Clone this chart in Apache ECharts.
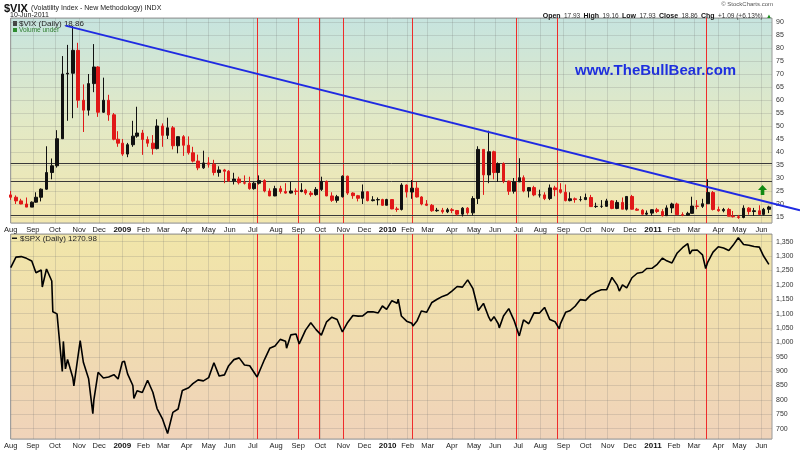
<!DOCTYPE html>
<html><head><meta charset="utf-8">
<script src="https://cdn.jsdelivr.net/npm/echarts@6/dist/echarts.min.js"></script>
<style>html,body{margin:0;padding:0;background:#fff}#c{width:800px;height:450px}</style>
</head><body><div id="c"></div><script>
// ---------- categories (trading days) ----------
const holidays = ['2008-09-01','2008-11-27','2008-12-25','2009-01-01','2009-01-19','2009-02-16','2009-04-10','2009-05-25','2009-07-03','2009-09-07','2009-11-26','2009-12-25','2010-01-01','2010-01-18','2010-02-15','2010-04-02','2010-05-31','2010-07-05','2010-09-06','2010-11-25','2010-12-24','2011-01-17','2011-02-21','2011-04-22','2011-05-30'];
const monthNames = ['Jan','Feb','Mar','Apr','May','Jun','Jul','Aug','Sep','Oct','Nov','Dec'];

// ---------- VIX weekly bars: [date, open, high, low, close] ----------
const vixWeekly = [
['2008-08-01',23.5,25.0,21.6,22.6],['2008-08-08',22.6,23.3,20.0,21.2],['2008-08-15',21.2,22.0,19.9,20.0],
['2008-08-22',20.0,22.5,18.8,18.8],['2008-08-29',18.8,21.0,18.8,20.7],['2008-09-05',20.7,24.5,20.5,22.6],
['2008-09-12',22.6,26.0,21.0,25.7],['2008-09-19',25.7,42.2,25.5,32.1],['2008-09-26',32.1,37.5,29.5,34.7],
['2008-10-03',34.7,48.4,34.0,45.1],['2008-10-10',45.1,76.9,45.0,70.0],['2008-10-17',70.0,81.2,52.0,70.3],
['2008-10-24',70.3,88.5,53.0,79.1],['2008-10-31',79.1,82.0,57.0,59.9],['2008-11-07',59.9,66.0,47.7,56.1],
['2008-11-14',56.1,70.0,54.0,66.3],['2008-11-21',66.3,81.5,63.0,72.7],['2008-11-28',72.7,73.0,53.5,55.3],
['2008-12-05',55.3,68.6,55.0,59.9],['2008-12-12',59.9,62.0,52.0,54.3],['2008-12-19',54.3,55.0,44.5,44.9],
['2008-12-26',44.9,48.0,42.0,43.4],['2009-01-02',43.4,45.0,38.5,39.2],['2009-01-09',39.2,43.5,38.0,42.8],
['2009-01-16',42.8,52.0,42.0,46.1],['2009-01-23',46.1,57.4,45.5,47.3],['2009-01-30',47.3,48.5,38.9,44.8],
['2009-02-06',44.8,46.0,42.0,43.4],['2009-02-13',43.4,46.5,39.0,41.3],['2009-02-20',41.3,52.6,41.0,50.0],
['2009-02-27',50.0,51.0,42.0,46.4],['2009-03-06',46.4,53.2,45.0,49.3],['2009-03-13',49.3,50.0,41.0,42.4],
['2009-03-20',42.4,46.0,39.5,45.9],['2009-03-27',45.9,46.5,38.5,42.6],['2009-04-03',42.6,46.0,39.0,39.7],
['2009-04-09',39.7,42.0,36.0,36.5],['2009-04-17',36.5,39.0,33.0,33.9],['2009-04-24',33.9,40.5,33.5,35.8],
['2009-05-01',35.8,38.0,34.0,35.3],['2009-05-08',35.3,37.0,31.0,32.1],['2009-05-15',32.1,34.5,30.5,33.1],
['2009-05-22',33.1,33.5,28.0,32.6],['2009-05-29',32.6,33.0,28.5,28.9],['2009-06-05',28.9,32.0,27.5,29.6],
['2009-06-12',29.6,30.5,27.5,28.2],['2009-06-19',28.2,31.0,27.5,28.0],['2009-06-26',28.0,30.5,25.5,25.9],
['2009-07-02',25.9,28.5,25.5,28.0],['2009-07-10',28.0,31.0,27.5,29.0],['2009-07-17',29.0,29.5,24.5,25.0],
['2009-07-24',25.0,26.0,23.0,23.1],['2009-07-31',23.1,27.0,23.0,25.9],['2009-08-07',25.9,27.0,24.0,24.8],
['2009-08-14',24.8,28.0,24.0,24.2],['2009-08-21',24.2,28.5,24.0,25.0],['2009-08-28',25.0,26.0,23.5,24.8],
['2009-09-04',24.8,28.0,24.5,25.3],['2009-09-11',25.3,25.8,23.5,24.2],['2009-09-18',24.2,25.0,22.8,23.6],
['2009-09-25',23.6,26.5,23.2,25.6],['2009-10-02',25.6,30.5,25.0,28.7],['2009-10-09',28.7,29.0,23.0,23.1],
['2009-10-16',23.1,24.5,20.8,21.4],['2009-10-23',21.4,23.5,20.5,22.8],['2009-10-30',22.8,31.0,22.5,30.7],
['2009-11-06',30.7,30.9,23.5,24.2],['2009-11-13',24.2,24.5,22.0,23.2],['2009-11-20',23.2,23.5,21.0,22.2],
['2009-11-27',22.2,27.5,20.0,24.7],['2009-12-04',24.7,25.0,21.0,21.3],['2009-12-11',21.3,23.0,21.0,21.6],
['2009-12-18',21.6,22.5,19.5,21.7],['2009-12-24',21.7,22.0,19.3,19.5],['2009-12-31',19.5,22.0,19.5,21.7],
['2010-01-08',21.7,21.8,18.0,18.1],['2010-01-15',18.1,18.9,17.0,17.9],['2010-01-22',17.9,28.0,17.5,27.3],
['2010-01-29',27.3,27.5,22.5,24.6],['2010-02-05',24.6,29.2,22.0,26.1],['2010-02-12',26.1,28.5,22.5,22.7],
['2010-02-19',22.7,23.0,19.5,20.0],['2010-02-26',20.0,21.5,19.2,19.5],['2010-03-05',19.5,20.0,17.0,17.4],
['2010-03-12',17.4,18.5,17.0,17.6],['2010-03-19',17.6,18.5,16.3,17.0],['2010-03-26',17.0,18.5,16.5,17.8],
['2010-04-01',17.8,18.4,16.5,17.5],['2010-04-09',17.5,17.7,15.6,16.1],['2010-04-16',16.1,18.8,15.2,18.4],
['2010-04-23',18.4,18.8,15.9,16.6],['2010-04-30',16.6,23.0,15.6,22.1],['2010-05-07',22.1,42.2,20.0,41.0],
['2010-05-14',41.0,41.0,23.5,31.2],['2010-05-21',31.2,48.2,28.0,40.1],['2010-05-28',40.1,40.5,29.5,32.1],
['2010-06-04',32.1,36.0,28.5,35.5],['2010-06-11',35.5,36.0,28.0,28.8],['2010-06-18',28.8,29.0,23.5,24.9],
['2010-06-25',24.9,30.0,24.0,28.5],['2010-07-02',28.5,37.6,28.5,30.1],['2010-07-09',30.1,31.0,24.5,25.0],
['2010-07-16',25.0,26.5,22.5,26.3],['2010-07-23',26.3,27.0,23.0,23.5],['2010-07-30',23.5,25.5,22.5,23.5],
['2010-08-06',23.5,24.5,21.5,22.1],['2010-08-13',22.1,27.5,21.5,26.2],['2010-08-20',26.2,27.0,23.0,25.5],
['2010-08-27',25.5,28.0,24.0,24.5],['2010-09-03',24.5,27.5,21.0,21.3],['2010-09-10',21.3,24.5,21.0,22.0],
['2010-09-17',22.0,22.5,20.5,21.7],['2010-09-24',21.7,23.0,21.0,21.7],['2010-10-01',21.7,24.0,21.5,22.5],
['2010-10-08',22.5,23.5,18.9,19.0],['2010-10-15',19.0,20.5,18.5,19.1],['2010-10-22',19.1,21.5,18.5,19.1],
['2010-10-29',19.1,22.0,19.0,21.2],['2010-11-05',21.2,21.5,18.0,18.3],['2010-11-12',18.3,21.5,18.0,20.6],
['2010-11-19',20.6,22.5,18.0,18.0],['2010-11-26',18.0,23.0,17.5,22.9],['2010-12-03',22.9,23.5,17.9,18.0],
['2010-12-10',18.0,18.5,17.4,17.6],['2010-12-17',17.6,18.0,15.9,16.1],['2010-12-23',16.1,17.5,15.7,16.5],
['2010-12-31',16.5,18.0,15.5,17.8],['2011-01-07',17.8,18.5,16.5,17.1],['2011-01-14',17.1,18.0,15.2,15.5],
['2011-01-21',15.5,19.5,15.4,18.5],['2011-01-28',18.5,20.5,16.5,20.0],['2011-02-04',20.0,20.5,15.9,15.9],
['2011-02-11',15.9,16.8,15.3,15.7],['2011-02-18',15.7,17.0,15.5,16.4],['2011-02-25',16.4,22.8,16.3,19.2],
['2011-03-04',19.2,21.5,18.0,19.1],['2011-03-11',19.1,22.0,18.5,20.1],['2011-03-18',20.1,29.5,20.0,24.4],
['2011-03-25',24.4,25.0,17.5,17.9],['2011-04-01',17.9,19.0,17.0,17.4],['2011-04-08',17.4,18.5,16.8,17.9],
['2011-04-15',17.9,18.5,15.3,15.3],['2011-04-21',15.3,17.3,14.8,15.1],['2011-04-29',15.1,15.8,14.3,14.8],
['2011-05-06',14.8,19.5,14.5,18.4],['2011-05-13',18.4,18.8,15.9,17.1],['2011-05-20',17.1,18.5,15.5,17.4],
['2011-05-27',17.4,19.5,15.9,16.0],['2011-06-03',16.0,18.5,15.6,17.95],['2011-06-10',17.95,19.3,16.5,18.86]
];

// ---------- S&P 500 closes: [date, close] ----------
const spxClose = [
['2008-08-01',1260.3],['2008-08-08',1296.3],['2008-08-15',1298.2],['2008-08-22',1292.2],['2008-08-29',1282.8],
['2008-09-05',1242.3],['2008-09-12',1251.7],['2008-09-15',1192.7],['2008-09-19',1255.1],['2008-09-26',1213.3],
['2008-09-29',1106.4],['2008-10-03',1099.2],['2008-10-10',899.2],['2008-10-13',1003.4],['2008-10-15',907.8],
['2008-10-17',940.6],['2008-10-24',876.8],['2008-10-27',848.9],['2008-11-04',1005.8],['2008-11-07',931.0],
['2008-11-14',873.3],['2008-11-20',752.4],['2008-11-21',800.0],['2008-11-28',896.2],['2008-12-05',876.1],
['2008-12-12',879.7],['2008-12-19',887.9],['2008-12-26',872.8],['2009-01-02',931.8],['2009-01-06',934.7],
['2009-01-09',890.4],['2009-01-16',850.1],['2009-01-20',805.2],['2009-01-23',832.0],['2009-01-30',825.9],
['2009-02-06',868.6],['2009-02-09',869.9],['2009-02-13',826.8],['2009-02-20',770.1],['2009-02-27',735.1],
['2009-03-06',683.4],['2009-03-09',676.5],['2009-03-13',756.6],['2009-03-20',768.5],['2009-03-26',832.9],
['2009-04-03',842.5],['2009-04-09',856.6],['2009-04-17',869.6],['2009-04-24',866.2],['2009-05-01',877.5],
['2009-05-08',929.2],['2009-05-15',882.9],['2009-05-22',887.0],['2009-05-29',919.1],['2009-06-05',940.1],
['2009-06-12',946.2],['2009-06-19',921.2],['2009-06-26',918.9],['2009-07-02',896.4],['2009-07-08',879.6],
['2009-07-17',940.4],['2009-07-24',979.3],['2009-07-31',987.5],['2009-08-07',1010.5],['2009-08-14',1004.1],
['2009-08-17',979.7],['2009-08-21',1026.1],['2009-08-28',1028.9],['2009-09-02',994.8],['2009-09-11',1042.7],
['2009-09-18',1068.3],['2009-09-25',1044.4],['2009-10-02',1025.2],['2009-10-09',1071.5],['2009-10-16',1087.7],
['2009-10-23',1079.6],['2009-10-30',1036.2],['2009-11-06',1069.3],['2009-11-13',1093.5],['2009-11-20',1091.4],
['2009-11-27',1091.5],['2009-12-04',1106.0],['2009-12-11',1106.4],['2009-12-18',1102.5],['2009-12-24',1126.5],
['2009-12-31',1115.1],['2010-01-08',1145.0],['2010-01-15',1136.0],['2010-01-19',1150.2],['2010-01-22',1091.8],
['2010-01-29',1073.9],['2010-02-05',1066.2],['2010-02-08',1056.7],['2010-02-12',1075.5],['2010-02-19',1109.2],
['2010-02-26',1104.5],['2010-03-05',1138.7],['2010-03-12',1150.0],['2010-03-19',1159.9],['2010-03-26',1166.6],
['2010-04-01',1178.1],['2010-04-09',1194.4],['2010-04-16',1192.1],['2010-04-23',1217.3],['2010-04-30',1186.7],
['2010-05-06',1128.2],['2010-05-07',1110.9],['2010-05-14',1135.7],['2010-05-21',1087.7],['2010-05-25',1074.0],
['2010-05-28',1089.4],['2010-06-04',1064.9],['2010-06-07',1050.5],['2010-06-11',1091.6],['2010-06-18',1117.5],
['2010-06-25',1076.8],['2010-07-02',1022.6],['2010-07-09',1078.0],['2010-07-16',1064.9],['2010-07-23',1102.7],
['2010-07-30',1101.6],['2010-08-06',1121.6],['2010-08-09',1127.8],['2010-08-13',1079.3],['2010-08-20',1071.7],
['2010-08-26',1047.2],['2010-08-27',1064.6],['2010-09-03',1104.5],['2010-09-10',1109.6],['2010-09-17',1125.6],
['2010-09-24',1148.7],['2010-10-01',1146.2],['2010-10-08',1165.2],['2010-10-15',1176.2],['2010-10-22',1183.1],
['2010-10-29',1183.3],['2010-11-05',1225.9],['2010-11-12',1199.2],['2010-11-16',1178.3],['2010-11-19',1199.7],
['2010-11-26',1189.4],['2010-12-03',1224.7],['2010-12-10',1240.4],['2010-12-17',1243.9],['2010-12-23',1256.8],
['2010-12-31',1257.6],['2011-01-07',1271.5],['2011-01-14',1293.2],['2011-01-21',1283.4],['2011-01-28',1276.3],
['2011-02-04',1310.9],['2011-02-11',1329.2],['2011-02-18',1343.0],['2011-02-23',1307.4],['2011-02-25',1319.9],
['2011-03-04',1321.2],['2011-03-11',1304.3],['2011-03-16',1256.9],['2011-03-18',1279.2],['2011-03-25',1313.8],
['2011-04-01',1332.4],['2011-04-08',1328.2],['2011-04-15',1319.7],['2011-04-21',1337.4],['2011-04-29',1363.6],
['2011-05-02',1361.2],['2011-05-06',1340.2],['2011-05-13',1337.8],['2011-05-20',1333.3],['2011-05-27',1331.1],
['2011-06-03',1300.2],['2011-06-10',1271.0]
];

// ---------- annotations ----------
const eventDates = ['2009-07-08','2009-09-01','2009-09-30','2009-11-02','2010-02-05','2010-06-29','2010-08-24','2011-03-16'];
const vixLevels = [35.6, 28.8, 15.6];
const trendDates = ['2008-10-15','2010-05-20'];
const trendValues = [88.6, 47.8];
const arrowDate = '2011-06-02', arrowValue = 25.4;

// build trading-day category list
const days = [];
(function () {
  let t = Date.UTC(2008, 7, 1); const end = Date.UTC(2011, 5, 15);
  while (t <= end) {
    const d = new Date(t); const wd = d.getUTCDay(); const s = d.toISOString().slice(0, 10);
    if (wd !== 0 && wd !== 6 && holidays.indexOf(s) < 0) days.push(s);
    t += 86400000;
  }
})();
function idxOf(s) { let k = 0; for (let i = 0; i < days.length; i++) { if (days[i] <= s) k = i; else break; } return k; }
const monthStart = days.map((d, i) => i === 0 || d.slice(0, 7) !== days[i - 1].slice(0, 7));

const FONT = 'Liberation Sans, Arial, sans-serif';
const gridLineColor = 'rgba(110,110,110,0.2)';

function xAxisFor(gi) {
  return {
    type: 'category', gridIndex: gi, data: days, boundaryGap: false,
    axisLine: { show: false }, axisTick: { show: false },
    axisLabel: {
      interval: (i) => monthStart[i], margin: 3, fontSize: 7.5, color: '#222', fontFamily: FONT,
      formatter: (v) => { const m = +v.slice(5, 7); return m === 1 ? '{y|' + v.slice(0, 4) + '}' : monthNames[m - 1]; },
      rich: { y: { fontWeight: 'bold', fontSize: 8, color: '#111', fontFamily: FONT } }
    },
    splitLine: { show: true, interval: (i) => monthStart[i], lineStyle: { color: gridLineColor, width: 1 } }
  };
}
function yAxisFor(gi, min, max, split) {
  return {
    type: 'value', gridIndex: gi, position: 'right', min: min, max: max, splitNumber: split,
    axisLine: { show: false }, axisTick: { show: false },
    axisLabel: { showMinLabel: false, showMaxLabel: false, margin: 4, fontSize: 7, color: '#333', fontFamily: FONT },
    splitLine: { show: true, lineStyle: { color: gridLineColor, width: 1 } }
  };
}

// vertical event lines (full panel height) drawn through the category axis
function eventSeries(gi) {
  return {
    type: 'custom', xAxisIndex: gi, yAxisIndex: gi, silent: true, z: 3,
    data: eventDates.map(d => [idxOf(d)]),
    renderItem: function (params, api) {
      const cs = params.coordSys;
      const x = Math.round(api.coord([api.value(0), 0])[0]) + 0.5;
      return { type: 'line', shape: { x1: x, y1: cs.y, x2: x, y2: cs.y + cs.height },
               style: { stroke: '#ef2b2b', lineWidth: 1 } };
    }
  };
}

const chart = echarts.init(document.getElementById('c'), null, { renderer: 'canvas' });
chart.setOption({
  animation: false,
  backgroundColor: '#fff',
  grid: [
    { left: 10.7, right: 28, top: 18, height: 205, show: true, borderColor: '#9a9a9a', borderWidth: 1,
      backgroundColor: new echarts.graphic.LinearGradient(0, 0, 0, 1, [
        { offset: 0, color: '#c6e4df' }, { offset: 0.5, color: '#e2e9c6' }, { offset: 1, color: '#f2e7b0' }]) },
    { left: 10.7, right: 28, top: 234, height: 205, show: true, borderColor: '#9a9a9a', borderWidth: 1,
      backgroundColor: new echarts.graphic.LinearGradient(0, 0, 0, 1, [
        { offset: 0, color: '#f1e6a9' }, { offset: 0.5, color: '#f0dcb0' }, { offset: 1, color: '#f0d3ba' }]) }
  ],
  xAxis: [xAxisFor(0), xAxisFor(1)],
  yAxis: [yAxisFor(0, 12.69, 91.54, 16), yAxisFor(1, 664.2, 1376.8, 14)],
  series: [
    eventSeries(0),
    {
      type: 'custom', xAxisIndex: 0, yAxisIndex: 0, silent: true, z: 3,
      data: vixLevels.map(v => [0, v]),
      renderItem: function (params, api) {
        const cs = params.coordSys;
        const y = Math.round(api.coord([0, api.value(1)])[1]) + 0.5;
        return { type: 'line', shape: { x1: cs.x, y1: y, x2: cs.x + cs.width, y2: y },
                 style: { stroke: '#3a3a3a', lineWidth: 1 } };
      }
    },
    {
      type: 'candlestick', xAxisIndex: 0, yAxisIndex: 0, barWidth: 3, z: 4,
      data: vixWeekly.map(r => [idxOf(r[0]), r[1], r[4], r[3], r[2]]),
      encode: { x: 0, y: [1, 2, 3, 4] },
      itemStyle: { color: '#111', color0: '#e01818', borderColor: '#111', borderColor0: '#e01818', borderWidth: 1 },
      markPoint: {
        silent: true, symbol: 'path://M5,0 L10,5 L7,5 L7,10 L3,10 L3,5 L0,5 Z', symbolSize: [9, 10],
        itemStyle: { color: '#128a12' }, label: { show: false },
        data: [{ coord: [idxOf(arrowDate), arrowValue] }]
      }
    },
    {
      type: 'custom', xAxisIndex: 0, yAxisIndex: 0, clip: false, silent: true, z: 6,
      data: [[idxOf(trendDates[0]), trendValues[0]]],
      renderItem: function (params, api) {
        const a = api.coord([idxOf(trendDates[0]), trendValues[0]]);
        const b = api.coord([idxOf(trendDates[1]), trendValues[1]]);
        const xe = api.getWidth();
        const ye = a[1] + (b[1] - a[1]) * (xe - a[0]) / (b[0] - a[0]);
        return { type: 'line', shape: { x1: a[0], y1: a[1], x2: xe, y2: ye }, style: { stroke: '#1f2ae2', lineWidth: 2 } };
      }
    },
    eventSeries(1),
    {
      type: 'line', xAxisIndex: 1, yAxisIndex: 1, showSymbol: false, symbol: 'none', z: 4,
      data: spxClose.map(r => [idxOf(r[0]), r[1]]),
      lineStyle: { color: '#000', width: 1.6 }
    }
  ],
  graphic: [
    { type: 'text', left: 4, top: 3, style: { text: '$VIX', font: 'bold 11px ' + FONT, fill: '#111' } },
    { type: 'text', left: 31, top: 5, style: { text: '(Volatility Index - New Methodology) INDX', font: '7px ' + FONT, fill: '#222' } },
    { type: 'text', left: 10, top: 12, style: { text: '10-Jun-2011', font: '7px ' + FONT, fill: '#222' } },
    { type: 'text', right: 27, top: 1, style: { text: '© StockCharts.com', font: '6px ' + FONT, fill: '#555' } },
    { type: 'text', right: 28, top: 10, style: {
        text: '{b|Open} {n|17.93} {b|High} {n|19.16} {b|Low} {n|17.93} {b|Close} {n|18.86} {b|Chg} {n|+1.09 (+6.13%)} {g|▲}',
        rich: { b: { font: 'bold 7px ' + FONT, fill: '#111' }, n: { font: '6.5px ' + FONT, fill: '#333' }, g: { font: '6px ' + FONT, fill: '#1a8a1a' } } } },
    { type: 'rect', left: 13, top: 21, shape: { width: 4, height: 5 }, style: { fill: '#444' } },
    { type: 'text', left: 19, top: 20, style: { text: '$VIX (Daily) 18.86', font: '8px ' + FONT, fill: '#222' } },
    { type: 'rect', left: 13, top: 28, shape: { width: 4, height: 4 }, style: { fill: '#2e8b2e' } },
    { type: 'text', left: 19, top: 27, style: { text: 'Volume undef', font: '6.5px ' + FONT, fill: '#2e7d2e' } },
    { type: 'rect', left: 12, top: 237.5, shape: { width: 5, height: 1.5 }, style: { fill: '#111' } },
    { type: 'text', left: 20, top: 234.5, style: { text: '$SPX (Daily) 1270.98', font: '8px ' + FONT, fill: '#222' } },
    { type: 'text', left: 575, top: 63, style: { text: 'www.TheBullBear.com', font: 'bold 15px ' + FONT, fill: '#1d2ee0' } }
  ]
});
</script></body></html>
